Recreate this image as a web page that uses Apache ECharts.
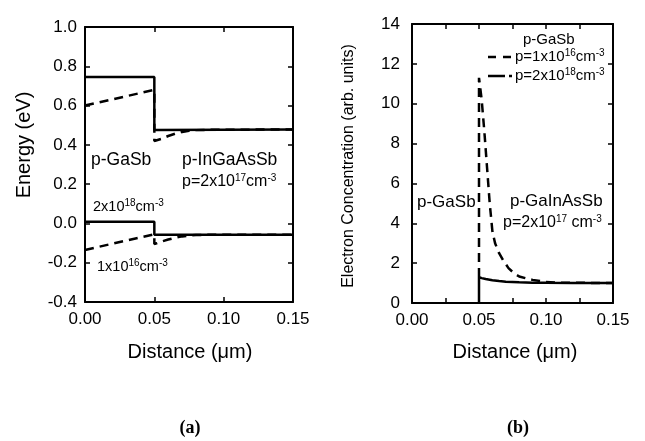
<!DOCTYPE html>
<html>
<head>
<meta charset="utf-8">
<script src="https://cdn.jsdelivr.net/npm/echarts@6/dist/echarts.min.js"></script>
<style>
  html, body { margin: 0; padding: 0; background: #fff; }
  #chart { width: 645px; height: 441px; }
</style>
</head>
<body>
<div id="chart"></div>
<script>
// ---- Panel (a): band edges, energy (eV) vs distance (um) ----
const cbHeavyX = [0, 0.05, 0.05, 0.15];
const cbHeavyY = [0.745, 0.745, 0.476, 0.478];
const cbLightX = [0, 0.05, 0.05, 0.055, 0.06, 0.065, 0.07, 0.075, 0.08, 0.09, 0.15];
const cbLightY = [0.60, 0.68, 0.42, 0.43, 0.445, 0.457, 0.466, 0.472, 0.475, 0.477, 0.478];
const vbHeavyX = [0, 0.05, 0.05, 0.15];
const vbHeavyY = [0.008, 0.008, -0.057, -0.057];
const vbLightX = [0, 0.05, 0.05, 0.055, 0.06, 0.065, 0.07, 0.075, 0.08, 0.09, 0.15];
const vbLightY = [-0.135, -0.055, -0.105, -0.093, -0.082, -0.073, -0.066, -0.062, -0.059, -0.058, -0.057];

// ---- Panel (b): electron concentration (arb. units) vs distance (um) ----
const nLightX = [0.05, 0.05, 0.052, 0.054, 0.056, 0.058, 0.060, 0.062, 0.065, 0.068, 0.072, 0.076, 0.080, 0.085, 0.090, 0.100, 0.110, 0.150];
const nLightY = [1.3, 11.3, 10.2, 8.6, 6.8, 5.0, 3.6, 3.0, 2.5, 2.15, 1.75, 1.5, 1.33, 1.24, 1.16, 1.06, 1.02, 1.0];
const nHeavyX = [0.05, 0.05, 0.052, 0.055, 0.06, 0.065, 0.07, 0.08, 0.09, 0.10, 0.12, 0.15];
const nHeavyY = [0, 1.3, 1.25, 1.2, 1.14, 1.1, 1.07, 1.04, 1.02, 1.01, 1.0, 1.0];

function zip(xs, ys) { return xs.map((x, i) => [x, ys[i]]); }

const FONT = 'Liberation Sans, Arial, sans-serif';
const INK = '#000';

function xAxisDef(gridIndex, opts) {
  return Object.assign({
    type: 'value', gridIndex, min: 0, max: 0.15, interval: 0.05,
    axisLine: { show: true, onZero: false, lineStyle: { color: INK, width: 2 } },
    axisTick: { show: true, inside: true, length: 5, lineStyle: { color: INK, width: 1.5 } },
    axisLabel: { color: INK, fontSize: 17, fontFamily: FONT, margin: 9,
                 formatter: v => v.toFixed(2) },
    splitLine: { show: false }
  }, opts || {});
}
function yAxisDef(gridIndex, min, max, interval, digits, opts) {
  return Object.assign({
    type: 'value', gridIndex, min, max, interval,
    axisLine: { show: true, onZero: false, lineStyle: { color: INK, width: 2 } },
    axisTick: { show: true, inside: true, length: 5, lineStyle: { color: INK, width: 1.5 } },
    axisLabel: { color: INK, fontSize: 17, fontFamily: FONT, margin: 8,
                 formatter: v => v.toFixed(digits) },
    splitLine: { show: false }
  }, opts || {});
}
const mirror = { axisLabel: { show: false } };
const minorX = { minorTick: { show: true, splitNumber: 2, length: 5, lineStyle: { color: INK, width: 1.5 } } };

function line(xi, yi, data, dashed, width) {
  return {
    type: 'line', xAxisIndex: xi, yAxisIndex: yi, data, showSymbol: false, symbol: 'none',
    animation: false, z: 3,
    lineStyle: { color: INK, width: width || 2.5, type: dashed ? [9, 6] : 'solid' }
  };
}

const supRich = {
  sup: { fontSize: 10, fontFamily: FONT, fill: INK, verticalAlign: 'top', padding: [0, 0, 7, 0] }
};
function label(x, y, text, size) {
  return {
    type: 'text', x, y, z: 10,
    style: { text, fill: INK, font: `${size || 17}px ${FONT}`, rich: supRich,
             align: 'left', verticalAlign: 'middle' }
  };
}
function title(x, y, text, size, rot) {
  return {
    type: 'text', x, y, rotation: rot || 0, z: 10,
    style: { text, fill: INK, font: `${size}px ${FONT}`, align: 'center', verticalAlign: 'middle' }
  };
}

const chart = echarts.init(document.getElementById('chart'), null, { renderer: 'canvas' });
chart.setOption({
  backgroundColor: '#fff',
  animation: false,
  grid: [
    { left: 85, top: 27, width: 208, height: 275 },
    { left: 412, top: 24, width: 201, height: 279 }
  ],
  xAxis: [
    xAxisDef(0),
    xAxisDef(0, Object.assign({ position: 'top' }, mirror)),
    xAxisDef(1, minorX),
    xAxisDef(1, Object.assign({ position: 'top' }, mirror, minorX))
  ],
  yAxis: [
    yAxisDef(0, -0.4, 1.0, 0.2, 1),
    yAxisDef(0, -0.4, 1.0, 0.2, 1, Object.assign({ position: 'right' }, mirror)),
    yAxisDef(1, 0, 14, 2, 0, { axisLabel: { color: INK, fontSize: 17, fontFamily: FONT, margin: 12 } }),
    yAxisDef(1, 0, 14, 2, 0, Object.assign({ position: 'right' }, mirror))
  ],
  series: [
    line(0, 0, zip(cbHeavyX, cbHeavyY), false),
    line(0, 0, zip(cbLightX, cbLightY), true),
    line(0, 0, zip(vbHeavyX, vbHeavyY), false),
    line(0, 0, zip(vbLightX, vbLightY), true),
    line(2, 2, zip(nLightX, nLightY), true),
    line(2, 2, zip(nHeavyX, nHeavyY), false)
  ],
  graphic: [
    // axis titles
    title(24, 145, 'Energy (eV)', 20, Math.PI / 2),
    title(349, 166, 'Electron Concentration (arb. units)', 16, Math.PI / 2),
    title(190, 352, 'Distance (\u03bcm)', 20),
    title(515, 352, 'Distance (\u03bcm)', 20),
    // panel tags
    { type: 'text', x: 190, y: 428, style: { text: '(a)', fill: INK, font: 'bold 18px Liberation Serif, serif', align: 'center', verticalAlign: 'middle' } },
    { type: 'text', x: 518, y: 428, style: { text: '(b)', fill: INK, font: 'bold 18px Liberation Serif, serif', align: 'center', verticalAlign: 'middle' } },
    // panel (a) annotations
    label(91, 160, 'p-GaSb', 17.5),
    label(182, 160, 'p-InGaAsSb', 17.5),
    label(182, 182, 'p=2x10{sup|17}cm{sup|-3}', 16),
    label(93, 207, '2x10{sup|18}cm{sup|-3}', 14.5),
    label(97, 267, '1x10{sup|16}cm{sup|-3}', 14.5),
    // panel (b) annotations
    label(417, 202, 'p-GaSb', 17),
    label(510, 201, 'p-GaInAsSb', 17),
    label(503, 223, 'p=2x10{sup|17} cm{sup|-3}', 16),
    // panel (b) key
    label(523, 40, 'p-GaSb', 15),
    { type: 'line', z: 10, shape: { x1: 488, y1: 57, x2: 513, y2: 57 },
      style: { stroke: INK, lineWidth: 2.5, lineDash: [8, 7] } },
    label(515, 57, 'p=1x10{sup|16}cm{sup|-3}', 15),
    { type: 'line', z: 10, shape: { x1: 488, y1: 76, x2: 512, y2: 76 },
      style: { stroke: INK, lineWidth: 2.5, lineDash: [17, 4, 3, 40] } },
    label(515, 76, 'p=2x10{sup|18}cm{sup|-3}', 15)
  ]
});
</script>
</body>
</html>
